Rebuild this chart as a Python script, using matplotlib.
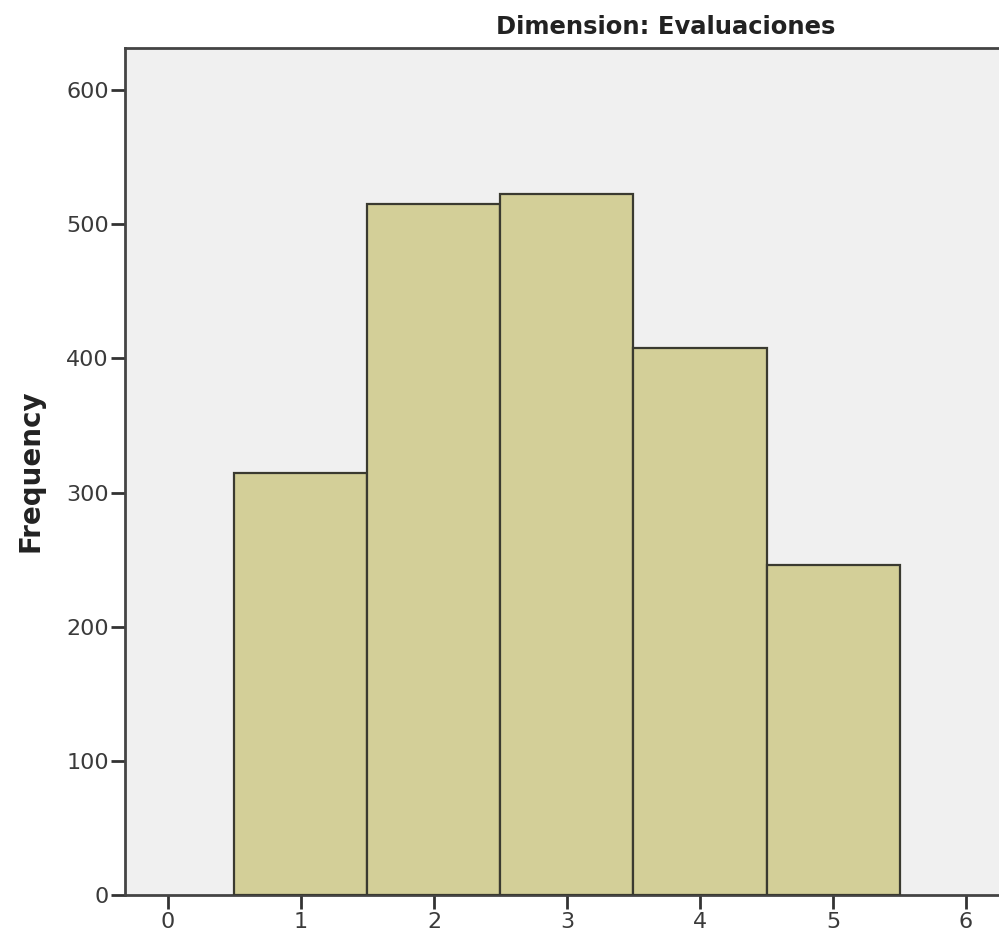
import matplotlib
matplotlib.use("Agg")
import matplotlib.pyplot as plt

plt.rcParams["font.family"] = ["DejaVu Sans"]

categories = [1, 2, 3, 4, 5]
frequencies = [315, 515, 523, 408, 246]
xticks = [0, 1, 2, 3, 4, 5, 6]
yticks = [0, 100, 200, 300, 400, 500, 600]

W, H = 999, 935
fig = plt.figure(figsize=(W / 100, H / 100), dpi=100)
left, right, top, bottom = 125, 999, 48, 895
ax = fig.add_axes([left / W, 1 - bottom / H, (right - left) / W, (bottom - top) / H])
ax.set_facecolor("#F0F0F0")

ax.bar(categories, frequencies, width=1.0, color="#D3CF98", edgecolor="#3A3A30", linewidth=1.6, zorder=3)

ax.set_xlim(-0.323, 6.248)
ax.set_ylim(0, 631.5)
ax.set_xticks(xticks)
ax.set_yticks(yticks)
ax.tick_params(axis="both", direction="out", length=10, width=2.0, color="#333333",
               labelsize=16, labelcolor="#3a3a3a")
ax.tick_params(axis="y", pad=1.5)
ax.tick_params(axis="x", pad=2)
for s in ["left", "top", "bottom"]:
    ax.spines[s].set_color("#444444")
    ax.spines[s].set_linewidth(2.0)
ax.spines["right"].set_visible(False)

fig.text(31 / W, 1 - 471 / H, "Frequency", ha="center", va="center", rotation=90,
         fontsize=20, fontweight="bold", color="#222222")
fig.text(666 / W, 1 - 27 / H, "Dimension: Evaluaciones", ha="center", va="center",
         fontsize=17.5, fontweight="bold", color="#222222")

fig.savefig("out.png", dpi=100)
